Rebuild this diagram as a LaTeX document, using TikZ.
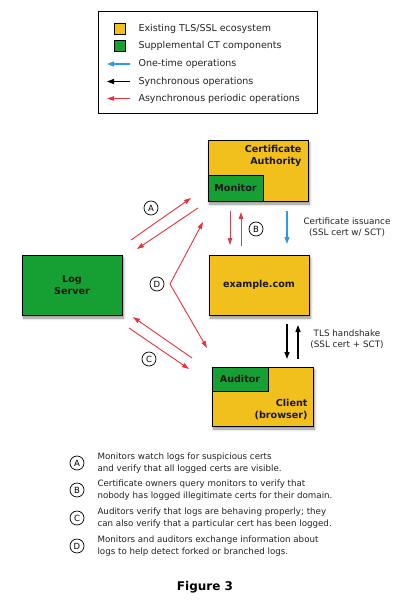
\documentclass[tikz,border=0pt]{standalone}
\usepackage{fontspec}
\setmainfont{DejaVu Sans}
\usetikzlibrary{arrows.meta,shadows.blur}
\definecolor{ylw}{HTML}{F2C01C}
\definecolor{grn}{HTML}{16A034}
\definecolor{ared}{HTML}{E8323C}
\definecolor{bred}{HTML}{D0404E}
\definecolor{ablue}{HTML}{2A9BEA}
\definecolor{txt}{HTML}{222222}
\tikzset{
  box/.style={draw=black, line width=1pt, inner sep=0pt,
    blur shadow={shadow xshift=1.5pt, shadow yshift=-3pt, shadow blur steps=6, shadow blur radius=2.5pt, shadow opacity=45}},
  sub/.style={draw=black, line width=0.8pt, fill=grn, inner sep=0pt},
  lbl/.style={font=\fontsize{9.6}{12}\selectfont\bfseries, text=black!90, align=center},
  small/.style={font=\fontsize{8.7}{12}\selectfont, text=txt},
  legtxt/.style={font=\fontsize{9.5}{12}\selectfont, text=txt},
  letter/.style={circle, draw=black, line width=0.7pt, minimum size=14pt, inner sep=0pt, font=\fontsize{8.5}{9}\selectfont},
  redarrow/.style={draw=ared, line width=0.9pt, -{Triangle[length=7pt,width=4.5pt]}},
  redarrowB/.style={draw=bred, line width=1pt, -{Triangle[length=7pt,width=4.5pt]}},
  blackarrow/.style={draw=black, line width=1.3pt, -{Triangle[length=7pt,width=5pt]}},
  bluearrow/.style={draw=ablue, line width=1.2pt, -{Triangle[length=7pt,width=5pt]}},
}
\begin{document}
\begin{tikzpicture}[x=1pt,y=-1pt]
\useasboundingbox (0,0) rectangle (401,605);
% legend
\node[draw=black, line width=0.8pt, minimum width=219pt, minimum height=102pt, inner sep=0pt] (legend) at (207.5,62) {};
\node[draw=black, line width=0.8pt, fill=ylw, minimum size=11pt, inner sep=0pt] (ly) at (119.5,28.5) {};
\node[draw=black, line width=0.8pt, fill=grn, minimum size=11pt, inner sep=0pt] (lg) at (119.5,46) {};
\node[legtxt, anchor=west] (t1) at (135,28.5) {Existing TLS/SSL ecosystem};
\node[legtxt, anchor=west] (t2) at (135,46) {Supplemental CT components};
\node[legtxt, anchor=west] (t3) at (135,64) {One-time operations};
\node[legtxt, anchor=west] (t4) at (135,82) {Synchronous operations};
\node[legtxt, anchor=west] (t5) at (135,99) {Asynchronous periodic operations};
\coordinate (l3a) at (130,64); \coordinate (l3b) at (107,64);
\coordinate (l4a) at (130,81.5); \coordinate (l4b) at (107,81.5);
\coordinate (l5a) at (130,98.5); \coordinate (l5b) at (107,98.5);
\draw[bluearrow] (l3a) -- (l3b);
\draw[blackarrow] (l4a) -- (l4b);
\draw[redarrow] (l5a) -- (l5b);

% boxes
\node[box, fill=ylw, minimum width=100pt, minimum height=61pt] (ca) at (258,170.5) {};
\node[sub, minimum width=55pt, minimum height=26pt] (mon) at (235.5,188) {};
\node[lbl] at (mon) {Monitor};
\node[lbl, anchor=north east, align=right] (catxt) at (305,142) {Certificate\\Authority};

\node[box, fill=ylw, minimum width=100pt, minimum height=60pt] (ex) at (259,285) {};
\node[lbl] (extxt) at (ex) {example.com};

\node[box, fill=grn, minimum width=100pt, minimum height=60pt] (log) at (72,285) {};
\node[lbl] (logtxt) at (log) {Log\\Server};

\node[box, fill=ylw, minimum width=101pt, minimum height=59pt] (cl) at (262.5,396.5) {};
\node[sub, minimum width=56pt, minimum height=24pt] (aud) at (240,379) {};
\node[lbl] at (aud) {Auditor};
\node[lbl, anchor=south east, align=right] (cltxt) at (311,423) {Client\\(browser)};

% A arrows
\coordinate (a1s) at (131,240); \coordinate (a1e) at (191,198);
\coordinate (a2s) at (198,208); \coordinate (a2e) at (137,249);
\draw[redarrow] (a1s) -- (a1e);
\draw[redarrow] (a2s) -- (a2e);
\node[letter] (A) at (151,208) {A};

% D arrows
\coordinate (dv) at (170,284);
\coordinate (d1) at (203,222); \coordinate (d2) at (207,348);
\draw[redarrow] (dv) -- (d1);
\draw[redarrow] (dv) -- (d2);
\node[letter] (D) at (157,284) {D};

% B arrows
\coordinate (b1s) at (230,211); \coordinate (b1e) at (230,245);
\coordinate (b2s) at (241,246); \coordinate (b2e) at (241,212);
\draw[redarrowB] (b1s) -- (b1e);
\draw[redarrowB] (b2s) -- (b2e);
\node[letter] (B) at (256,229) {B};

% blue issuance
\coordinate (is) at (287,211); \coordinate (ie) at (287,244);
\draw[bluearrow] (is) -- (ie);
\node[small, align=center, font=\fontsize{8.8}{11}\selectfont] (issue) at (347,227.5) {Certificate issuance\\(SSL cert w/ SCT)};

% TLS
\coordinate (t1s) at (287,324); \coordinate (t1e) at (287,359);
\coordinate (t2s) at (298,359); \coordinate (t2e) at (298,325);
\draw[blackarrow] (t1s) -- (t1e);
\draw[blackarrow] (t2s) -- (t2e);
\node[small, align=center, font=\fontsize{8.8}{11}\selectfont] (tls) at (347,339.5) {TLS handshake\\(SSL cert + SCT)};

% C arrows
\coordinate (c1s) at (192,358); \coordinate (c1e) at (133,317);
\coordinate (c2s) at (129,328); \coordinate (c2e) at (189,369);
\draw[redarrow] (c1s) -- (c1e);
\draw[redarrow] (c2s) -- (c2e);
\node[letter] (C) at (149,359) {C};

% notes
\node[letter] (nA) at (77,463) {A};
\node[small, anchor=west, align=left] (ntA) at (94,463) {Monitors watch logs for suspicious certs\\and verify that all logged certs are visible.};
\node[letter] (nB) at (77,490) {B};
\node[small, anchor=west, align=left] (ntB) at (94,490.5) {Certificate owners query monitors to verify that\\nobody has logged illegitimate certs for their domain.};
\node[letter] (nC) at (77,518) {C};
\node[small, anchor=west, align=left] (ntC) at (94,518.5) {Auditors verify that logs are behaving properly; they\\can also verify that a particular cert has been logged.};
\node[letter] (nD) at (77,546) {D};
\node[small, anchor=west, align=left] (ntD) at (94,546) {Monitors and auditors exchange information about\\logs to help detect forked or branched logs.};

\node[font=\fontsize{12}{14}\selectfont\bfseries] (fig) at (205,587) {Figure 3};
\end{tikzpicture}
\end{document}
